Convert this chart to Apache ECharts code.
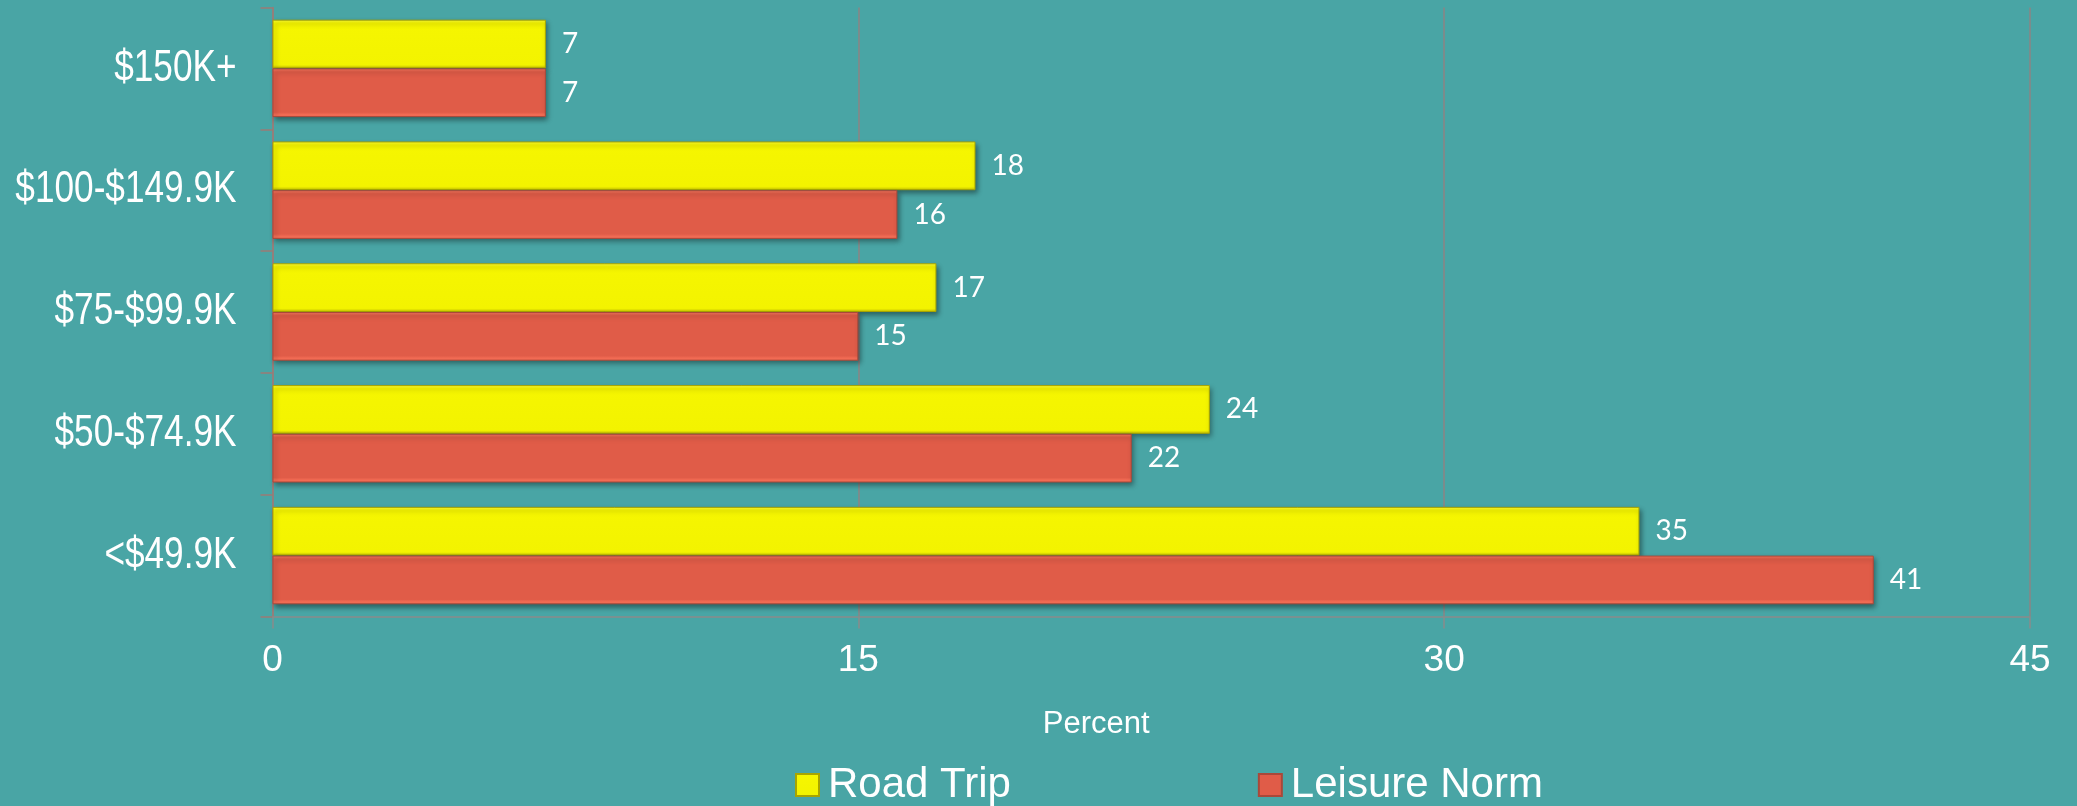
<!DOCTYPE html>
<html>
<head>
<meta charset="utf-8">
<script src="https://cdn.jsdelivr.net/npm/echarts@6/dist/echarts.min.js"></script>
<style>
  html, body { margin: 0; padding: 0; background: #49a5a5; }
  #chart { width: 2077px; height: 806px; }
</style>
</head>
<body>
<div id="chart"></div>
<script>
// Household income bands, bottom to top on the category axis
const categories = ['<$49.9K', '$50-$74.9K', '$75-$99.9K', '$100-$149.9K', '$150K+'];
const roadTrip = [35, 24, 17, 18, 7];
const leisureNorm = [41, 22, 15, 16, 7];
const seriesNames = ['Road Trip', 'Leisure Norm'];
const xTicks = [0, 15, 30, 45];

const sansFont = '"Liberation Sans", Arial, sans-serif';
const valueFont = 'Lato, "Open Sans", sans-serif';

const GRID_LEFT = 272.5;
const CAT_LABEL_GAP = 36;       // space between the category axis line and its labels
const CAT_LABEL_SQUEEZE = 0.8;  // narrow-face look for the category labels

// Bevel-like fills: light top rim, flat body, edge rim at the bottom
const yellowFill = new echarts.graphic.LinearGradient(0, 0, 0, 1, [
  { offset: 0, color: '#ffff3a' },
  { offset: 0.07, color: '#f6f600' },
  { offset: 0.93, color: '#f3f300' },
  { offset: 1, color: '#c4bf00' }
]);
const redFill = new echarts.graphic.LinearGradient(0, 0, 0, 1, [
  { offset: 0, color: '#f5785f' },
  { offset: 0.07, color: '#e05c48' },
  { offset: 0.9, color: '#e05c48' },
  { offset: 0.95, color: '#f46d55' },
  { offset: 1, color: '#f46d55' }
]);

const chart = echarts.init(document.getElementById('chart'), null, { renderer: 'canvas' });

function barSeries(name, data, fill, edge) {
  return {
    name: name,
    type: 'bar',
    data: data,
    barGap: '0%',
    barCategoryGap: '20%',
    itemStyle: {
      color: fill,
      borderColor: edge,
      borderWidth: 1,
      shadowColor: 'rgba(0,0,0,0.4)',
      shadowBlur: 5,
      shadowOffsetX: 2,
      shadowOffsetY: 3
    },
    label: {
      show: true,
      position: 'right',
      distance: 16,
      color: '#ffffff',
      fontFamily: valueFont,
      fontSize: 28
    },
    emphasis: { disabled: true }
  };
}

chart.setOption({
  backgroundColor: '#49a5a5',
  animation: false,
  grid: {
    left: GRID_LEFT, right: 47, top: 7.5, bottom: 189.5,
    containLabel: false,
    outerBoundsMode: 'none'
  },
  legend: {
    data: seriesNames,
    left: 790,
    top: 759,
    icon: 'rect',
    itemWidth: 23,
    itemHeight: 22,
    itemGap: 247,
    textStyle: { color: '#ffffff', fontFamily: sansFont, fontSize: 42, padding: [0, 0, 0, 4] }
  },
  xAxis: {
    type: 'value',
    min: xTicks[0],
    max: xTicks[xTicks.length - 1],
    interval: xTicks[1] - xTicks[0],
    name: 'Percent',
    nameLocation: 'middle',
    nameGap: 92,
    nameTextStyle: { color: '#ffffff', fontFamily: sansFont, fontSize: 31, padding: [0, 110, 0, 0] },
    axisLine: { show: true, lineStyle: { color: '#8a8a8a', width: 1.5 } },
    axisTick: { show: true, length: 12, lineStyle: { color: '#8a8a8a', width: 1.5 } },
    axisLabel: { color: '#ffffff', fontFamily: sansFont, fontSize: 37, margin: 26 },
    splitLine: { show: true, lineStyle: { color: '#8c8585', width: 1.5 } }
  },
  yAxis: {
    type: 'category',
    data: categories,
    axisLine: { show: true, lineStyle: { color: '#9b7b76', width: 1.5 } },
    axisTick: { show: true, length: 12, lineStyle: { color: '#9b7b76', width: 1.5 } },
    axisLabel: { show: false },
    splitLine: { show: false }
  },
  series: [
    barSeries(seriesNames[0], roadTrip, yellowFill, '#a8a400'),
    barSeries(seriesNames[1], leisureNorm, redFill, '#a9483a')
  ]
});

// Category labels, placed on the category scale and drawn horizontally condensed
const catLabels = categories.map(function (cat) {
  const y = chart.convertToPixel({ yAxisIndex: 0 }, cat);
  return {
    type: 'text',
    x: GRID_LEFT - CAT_LABEL_GAP,
    y: y,
    scaleX: CAT_LABEL_SQUEEZE,
    silent: true,
    style: {
      text: cat,
      x: 0,
      y: 0,
      align: 'right',
      verticalAlign: 'middle',
      fill: '#ffffff',
      font: '44px ' + sansFont
    }
  };
});
chart.setOption({ graphic: { elements: catLabels } });
</script>
</body>
</html>
